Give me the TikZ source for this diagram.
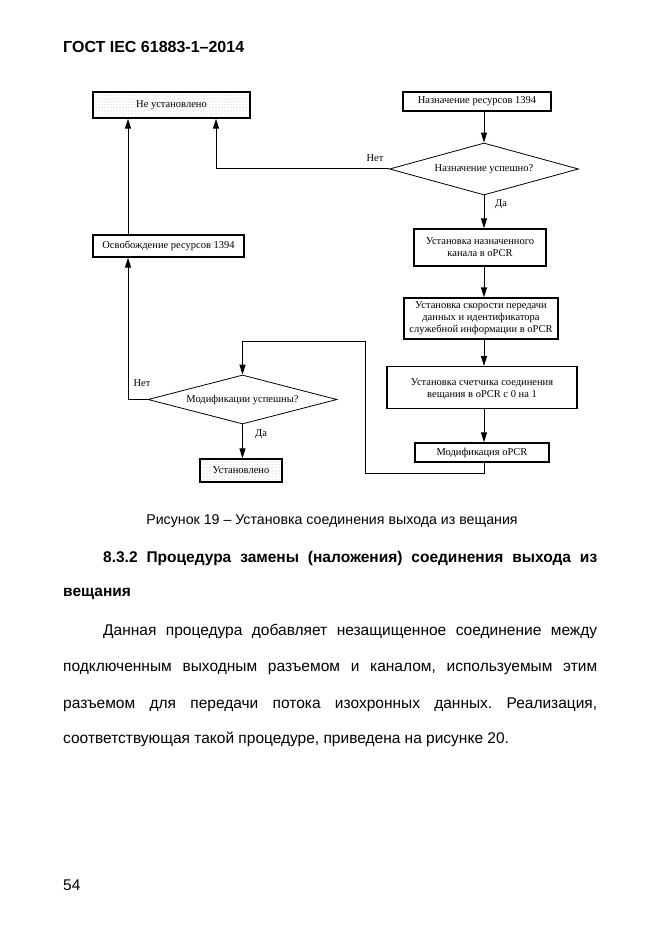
\documentclass[tikz,border=0pt]{standalone}
\usepackage{fontspec}
\setmainfont{Liberation Sans}
\newfontfamily\tnr{Liberation Serif}
\usetikzlibrary{shapes.geometric,arrows.meta,patterns}
\frenchspacing
\begin{document}
\begin{tikzpicture}[x=1pt,y=-1pt,
  box/.style={draw,line width=1.3pt,inner sep=1pt,font=\tnr\fontsize{10.5}{12}\selectfont,align=center},
  dotbox/.style={box,pattern=dots,pattern color=gray!70},
  dec/.style={draw,line width=0.8pt,shape=diamond,aspect=3.7,inner sep=0pt,font=\tnr\fontsize{10.5}{12}\selectfont},
  arr/.style={line width=1pt,-{Triangle[length=10pt,width=6pt]}},
  lbl/.style={font=\tnr\fontsize{10.5}{12}\selectfont,inner sep=0pt},
  body/.style={anchor=base west,inner sep=0pt,font=\fontsize{15.5}{18}\selectfont}]
\useasboundingbox (0,0) rectangle (661,936);
% header
\node[body,font=\bfseries\fontsize{16}{18}\selectfont] (hdr) at (63,53) {ГОСТ IEC 61883-1–2014};
% diagram nodes
\node[dotbox,minimum width=157pt,minimum height=26pt] (ne) at (171.5,105) {Не установлено};
\node[box,minimum width=148pt,minimum height=19pt] (naz) at (477,101.5) {Назначение ресурсов 1394};
\node[dec,minimum width=189pt,minimum height=52pt] (d1) at (484,169) {Назначение успешно?};
\node[box,minimum width=132pt,minimum height=37pt] (kan) at (480,247.5) {Установка назначенного\\канала в oPCR};
\node[box,minimum width=154pt,minimum height=41pt,inner sep=0pt] (sk) at (481,318.5) {Установка скорости передачи\\данных и идентификатора\\служебной информации в oPCR};
\node[box,minimum width=190pt,minimum height=42pt,anchor=north] (sch) at (482,366) {\rule{0pt}{10pt}Установка счетчика соединения\\вещания в oPCR с 0 на 1};
\node[box,minimum width=134pt,minimum height=19pt] (mod) at (482,452.5) {Модификация oPCR};
\node[box,minimum width=151pt,minimum height=22pt] (osv) at (168.5,246) {Освобождение ресурсов 1394};
\node[dec,minimum width=189pt,minimum height=49pt] (d2) at (242.5,399.5) {Модификации успешны?};
\node[dotbox,minimum width=82pt,minimum height=23pt] (ust) at (241,470.5) {Установлено};
% labels
\node[lbl] (n1) at (375,158) {Нет};
\node[lbl] (y1) at (501,204) {Да};
\node[lbl] (n2) at (142,383) {Нет};
\node[lbl] (y2) at (261,434) {Да};
% connectors
\coordinate (cx) at (484,0);
\coordinate (c1) at (216,169);
\draw[arr] (d1.west) -- (c1) -- (c1 |- ne.south);
\draw[arr] (naz.south -| cx) -- (d1.north);
\draw[arr] (d1.south) -- (kan.north -| cx);
\draw[arr] (kan.south -| cx) -- (sk.north -| cx);
\draw[arr] (sk.south -| cx) -- (sch.north -| cx);
\draw[arr] (sch.south -| cx) -- (mod.north -| cx);
\coordinate (l1) at (484,473);
\coordinate (l2) at (365,473);
\coordinate (l3) at (365,341);
\coordinate (l4) at (242.5,341);
\draw[arr] (mod.south -| cx) -- (l1) -- (l2) -- (l3) -- (l4) -- (d2.north);
\coordinate (m1) at (128,399.5);
\draw[arr] (d2.west) -- (m1) -- (m1 |- osv.south);
\draw[arr] (osv.north -| m1) -- (m1 |- ne.south);
\draw[arr] (d2.south) -- (ust.north -| d2.south);
% text below
\node[anchor=base,inner sep=0pt,font=\fontsize{14.2}{16}\selectfont] (cap) at (332,524) {Рисунок 19 – Установка соединения выхода из вещания};
\node[body,font=\bfseries\fontsize{15.5}{18}\selectfont] (h1) at (103,562) {\makebox[494pt][s]{8.3.2 Процедура замены (наложения) соединения выхода из}};
\node[body,font=\bfseries\fontsize{15.5}{18}\selectfont] (h2) at (63,596) {вещания};
\node[body] (p1) at (103,635) {\makebox[494pt][s]{Данная процедура добавляет незащищенное соединение между}};
\node[body] (p2) at (63,671) {\makebox[534pt][s]{подключенным выходным разъемом и каналом, используемым этим}};
\node[body] (p3) at (63,708) {\makebox[534pt][s]{разъемом для передачи потока изохронных данных. Реализация,}};
\node[body] (p4) at (63,743) {соответствующая такой процедуре, приведена на рисунке 20.};
\node[body] (pg) at (63,890) {54};
\end{tikzpicture}
\end{document}
